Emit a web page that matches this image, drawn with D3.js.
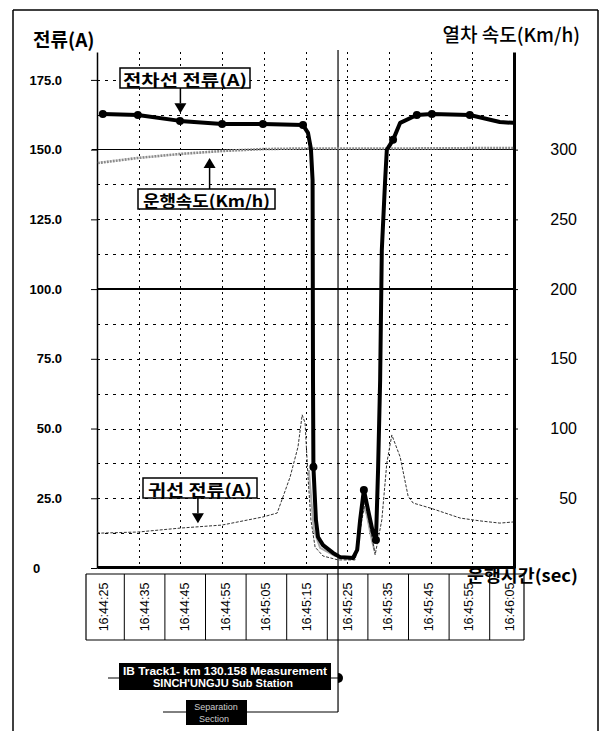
<!DOCTYPE html>
<html><head><meta charset="utf-8">
<script src="https://cdn.jsdelivr.net/npm/d3@7"></script>
<style>body{margin:0;background:#fff}svg{display:block}</style>
</head><body><svg id="c" width="600" height="731"></svg>
<script>
// ---- data ----
const timeLabels = ["16:44:25","16:44:35","16:44:45","16:44:55","16:45:05","16:45:15","16:45:25","16:45:35","16:45:45","16:45:55","16:46:05"];
// seconds after 16:44:25
const catTime    = [1.4, 9.8, 19.9, 30.0, 39.8, 49.4, 50.6, 51.3, 51.7, 51.8, 51.9, 52.5, 53.0, 54.2, 56.6, 58.3, 61.4, 62.4, 63.1, 64.0, 65.0, 66.2, 66.9, 67.4, 67.9, 68.3, 69.1, 69.5, 71.0, 72.7, 76.7, 80.3, 89.4, 96.6, 99.8];
const catCurrent = [162.8,162.4,160.3,159.2,159.2,158.8,156.0,150.3,139.1,67.4,36.2,17.2,11.1,8.2,5.4,3.9,3.6,6.5,17.2,28.0,20.8,12.5,10.0,35.1,67.4,114.0,139.1,149.9,153.5,159.6,162.4,162.8,162.4,159.9,159.6];
const catMarked  = [1,1,1,1,1,1,0,0,0,0,1,0,0,0,0,0,0,0,0,1,0,0,1,0,0,0,0,0,1,0,1,1,1,0,0];
const retTime    = [0, 0.7, 9.8, 19.9, 30.0, 39.8, 43.2, 44.6, 46.3, 48.2, 49.2, 49.9, 50.6, 51.3, 52.3, 54.2, 57.8, 61.9, 63.1, 64.3, 65.5, 66.7, 68.3, 69.5, 70.7, 72.7, 74.6, 75.8, 79.9, 87.1, 91.8, 96.6, 99.8];
const retCurrent = [12.9,12.5,12.9,14.3,15.4,18.3,19.7,25.5,32.6,43.4,54.9,52.0,32.6,17.2,7.5,4.3,2.9,2.9,13.6,23.7,14.7,4.7,17.2,37.6,47.7,39.8,25.8,23.3,21.5,17.9,16.9,16.1,16.5];
const traceTime    = [50.8, 52.0, 53.5, 57.1, 61.9, 62.8, 63.8, 64.7, 65.9, 66.6];
const traceCurrent = [35.1, 13.6, 7.2, 4.3, 3.9, 11.8, 22.6, 19.0, 10.0, 6.0];
const speedTime = [0.2, 9.8, 19.9, 30.0, 39.8, 48.7, 72.7, 100];
const speedKmh  = [290.4, 294.0, 296.9, 299.0, 300.4, 300.8, 300.8, 301.2];
const leftTicks = [0, 25, 50, 75, 100, 125, 150, 175];
const leftTickLabels = ["0", "25.0", "50.0", "75.0", "100.0", "125.0", "150.0", "175.0"];
const rightTicks = [50, 100, 150, 200, 250, 300];
const separationTime = 57.8;

// ---- drawing ----
const svg = d3.select("#c");
const KR = "'Noto Sans CJK KR','Noto Sans',sans-serif";
const LAT = "'Liberation Sans',Arial,sans-serif";
const x = d3.scaleLinear().domain([0, 100]).range([97, 514]);
const yL = d3.scaleLinear().domain([0, 185]).range([568, 52]);
const yR = d3.scaleLinear().domain([0, 370]).range([568, 52]);

function line(g, x1, y1, x2, y2, w, dash, col) {
  return g.append("line").attr("x1", x1).attr("y1", y1).attr("x2", x2).attr("y2", y2)
    .attr("stroke", col || "#000").attr("stroke-width", w || 1)
    .attr("stroke-dasharray", dash || null);
}

// outer frame
const frame = svg.append("g");
line(frame, 13, 10, 598, 10, 1.5);
line(frame, 13, 10, 13, 731, 1.5);
line(frame, 598, 10, 598, 731, 1.5);

// titles
svg.append("text").attr("x", 33).attr("y", 47).attr("font-family", KR).attr("font-weight", 700)
  .attr("font-size", 19).text("전류(A)");
svg.append("text").attr("x", 580).attr("y", 42).attr("text-anchor", "end").attr("font-family", KR)
  .attr("font-weight", 500).attr("font-size", 19).text("열차 속도(Km/h)");

// grid
const grid = svg.append("g").attr("shape-rendering", "crispEdges");
d3.range(12.5, 180, 12.5).filter(v => v !== 150 && v !== 100).forEach(v => {
  line(grid, x(0), Math.round(yL(v)) + 0.5, x(100), Math.round(yL(v)) + 0.5, 1, "3,5", "#000");
});
d3.range(10, 100, 10).forEach(t => {
  line(grid, Math.round(x(t)) + 0.5, yL(185), Math.round(x(t)) + 0.5, yL(0), 1, "2,4", "#000");
});
// solid reference lines
line(grid, 92, yL(150), x(100), yL(150), 1.2);
line(grid, x(0), yL(100), x(100), yL(100), 1.2);

// axes
const ax = d3.axisLeft(yL).tickValues(leftTicks).tickSizeInner(6).tickSizeOuter(0).tickPadding(29)
  .tickFormat((d, i) => leftTickLabels[i]);
const gL = svg.append("g").attr("transform", `translate(${x(0)},0)`).call(ax);
gL.select(".domain").attr("stroke-width", 1.5);
gL.selectAll("text").attr("font-family", LAT).attr("font-weight", 700).attr("font-size", 13).attr("fill", "#000");
gL.selectAll(".tick").filter(d => d === 0).select("text").attr("text-anchor", "start").attr("x", 33 - x(0));

const ar = d3.axisRight(yR).tickValues(rightTicks).tickSizeInner(4).tickSizeOuter(0).tickFormat(d3.format("d"));
const gR = svg.append("g").attr("transform", `translate(${x(100)},0)`).call(ar);
gR.select(".domain").attr("stroke-width", 3);
gR.selectAll("text").attr("font-family", LAT).attr("font-size", 16).attr("fill", "#000")
  .attr("text-anchor", "end").attr("x", 63);

const ab = d3.axisBottom(x).tickValues([]).tickSizeOuter(0);
const gB = svg.append("g").attr("transform", `translate(0,${yL(0) - 1})`).call(ab);
gB.select(".domain").attr("stroke-width", 3);

// separation line
line(svg, x(separationTime), 50, x(separationTime), 712, 1.2);

// series
const spLine = d3.line().x((d, i) => x(speedTime[i])).y(d => yR(d));
svg.append("path").attr("d", spLine(speedKmh)).attr("fill", "none").attr("stroke", "#8a8a8a")
  .attr("stroke-width", 2.6).attr("stroke-dasharray", "2,1");

const trLine = d3.line().x((d, i) => x(traceTime[i])).y(d => yL(d));
svg.append("path").attr("d", trLine(traceCurrent)).attr("fill", "none").attr("stroke", "#aaa")
  .attr("stroke-width", 2);

const rLine = d3.line().x((d, i) => x(retTime[i])).y(d => yL(d));
svg.append("path").attr("d", rLine(retCurrent)).attr("fill", "none").attr("stroke", "#333")
  .attr("stroke-width", 1).attr("stroke-dasharray", "3,1.5");

const cLine = d3.line().x((d, i) => x(catTime[i])).y(d => yL(d));
svg.append("path").attr("d", cLine(catCurrent)).attr("fill", "none").attr("stroke", "#000")
  .attr("stroke-width", 4).attr("stroke-linejoin", "round");
svg.append("g").selectAll("circle").data(catCurrent.map((v, i) => [catTime[i], v, catMarked[i]]).filter(d => d[2]))
  .join("circle").attr("cx", d => x(d[0])).attr("cy", d => yL(d[1])).attr("r", 4).attr("fill", "#000");

// annotations (label boxes with arrows)
function callout(label, cx, boxTop, w, h, tipX, tipY, up, tl) {
  const g = svg.append("g");
  g.append("rect").attr("x", cx - w / 2).attr("y", boxTop).attr("width", w).attr("height", h)
    .attr("fill", "#fff").attr("stroke", "#000").attr("stroke-width", 1.5);
  g.append("text").attr("x", cx).attr("y", boxTop + h / 2 + 1).attr("text-anchor", "middle")
    .attr("dominant-baseline", "central").attr("font-family", KR).attr("font-weight", 700)
    .attr("font-size", 16).attr("textLength", tl).attr("lengthAdjust", "spacingAndGlyphs").text(label);
  const base = up ? boxTop : boxTop + h;
  const headBase = up ? tipY + 10 : tipY - 10;
  line(g, tipX, base, tipX, headBase, 1.5);
  g.append("path").attr("d", `M${tipX - 6},${headBase}L${tipX + 6},${headBase}L${tipX},${tipY}Z`).attr("fill", "#000");
}
callout("전차선 전류(A)", 185, 68, 130, 20, x(20), yL(163), false, 124);
callout("운행속도(Km/h)", 206.5, 189, 137, 20, x(27), yR(294), true, 127);
callout("귀선 전류(A)", 200, 478, 114, 20, x(24.2), yL(16), false, 104);

// time label row
const lx = d3.scalePoint().domain(timeLabels).range([103, 509]);
const row = svg.append("g");
const rowTop = 574, rowBot = 640;
line(row, 86, rowTop, 524, rowTop, 1.2);
line(row, 86, rowBot, 524, rowBot, 1.2);
line(row, 86, rowTop, 86, rowBot, 1.2);
line(row, 524, rowTop, 524, rowBot, 1.2);
timeLabels.slice(1).forEach((lab, i) => {
  const m = (lx(timeLabels[i]) + lx(lab)) / 2 + 1;
  line(row, m, rowTop, m, rowBot, 1);
});
timeLabels.forEach(lab => {
  row.append("text").attr("transform", `translate(${lx(lab) + 1},607) rotate(-90)`)
    .attr("text-anchor", "middle").attr("dominant-baseline", "central")
    .attr("font-family", LAT).attr("font-size", 12.5).text(lab);
});
svg.append("text").attr("x", 467).attr("y", 582).attr("font-family", KR).attr("font-weight", 700)
  .attr("font-size", 17).attr("textLength", 111).attr("lengthAdjust", "spacingAndGlyphs").text("운행시간(sec)");

// measurement / separation boxes
const ann = svg.append("g");
line(ann, 108, 678, 119, 678, 1);
line(ann, 331, 678, x(separationTime), 678, 1);
ann.append("path").attr("d", `M${x(separationTime)},673A5,5 0 0 1 ${x(separationTime)},683Z`).attr("fill", "#000");
ann.append("rect").attr("x", 119).attr("y", 663).attr("width", 212).attr("height", 27).attr("fill", "#000");
ann.append("text").attr("x", 225).attr("y", 671).attr("text-anchor", "middle").attr("dominant-baseline", "central")
  .attr("font-family", LAT).attr("font-weight", 700).attr("font-size", 11).attr("fill", "#fff")
  .attr("textLength", 204).attr("lengthAdjust", "spacingAndGlyphs").text("IB Track1- km 130.158 Measurement");
ann.append("text").attr("x", 223).attr("y", 683).attr("text-anchor", "middle").attr("dominant-baseline", "central")
  .attr("font-family", LAT).attr("font-weight", 700).attr("font-size", 11).attr("fill", "#fff")
  .attr("textLength", 140).attr("lengthAdjust", "spacingAndGlyphs").text("SINCH'UNGJU Sub Station");
line(ann, 163, 712, 186, 712, 1);
line(ann, 247, 712, x(separationTime), 712, 1);
ann.append("rect").attr("x", 186).attr("y", 700).attr("width", 61).attr("height", 25).attr("fill", "#000");
ann.append("text").attr("x", 216).attr("y", 707).attr("text-anchor", "middle").attr("dominant-baseline", "central")
  .attr("font-family", LAT).attr("font-size", 9).attr("fill", "#ccc").text("Separation");
ann.append("text").attr("x", 214).attr("y", 719).attr("text-anchor", "middle").attr("dominant-baseline", "central")
  .attr("font-family", LAT).attr("font-size", 9).attr("fill", "#ccc").text("Section");
</script></body></html>
